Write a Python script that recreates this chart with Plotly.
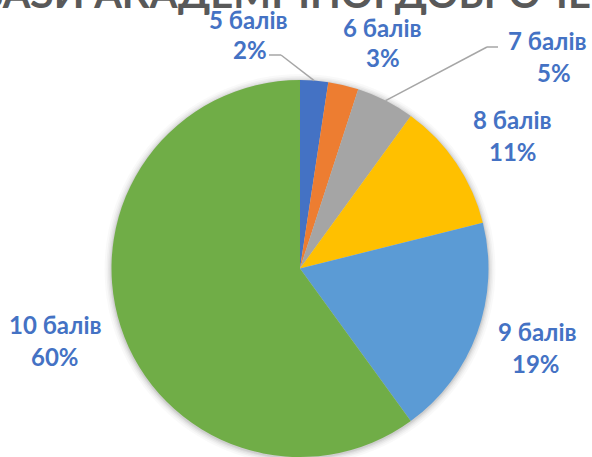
import math
import plotly.graph_objects as go

# ---- data ----
categories = ["5 балів", "6 балів", "7 балів", "8 балів", "9 балів", "10 балів"]
shares = [2.4, 2.6, 5.0, 11.1, 18.9, 60.0]
colors = ["#4472C4", "#ED7D31", "#A5A5A5", "#FFC000", "#5B9BD5", "#70AD47"]
title_text = "БАЗИ АКАДЕМІЧНОЇ ДОБРОЧЕСНОСТІ"

W, H = 592, 457
CX, CY, R = 300.0, 268.5, 188.5


def px(x, y):
    return x / W, 1 - y / H


total = sum(shares)
pct_labels = [f"{round(v / total * 100):.0f}%" for v in shares]

fig = go.Figure()

# soft shadow around the pie
for dr, op in [(7, 0.025), (5, 0.03), (3.5, 0.04), (2, 0.05), (1, 0.06)]:
    x0, y0 = px(CX - R - dr, CY - R - dr + 1)
    x1, y1 = px(CX + R + dr, CY + R + dr + 1)
    fig.add_shape(type="circle", xref="paper", yref="paper",
                  x0=x0, x1=x1, y0=y1, y1=y0, layer="below",
                  fillcolor=f"rgba(0,0,0,{op})", line=dict(width=0))

dx0, _ = px(CX - R, 0)
dx1, _ = px(CX + R, 0)
fig.add_trace(go.Pie(
    labels=categories, values=shares, sort=False, direction="clockwise",
    rotation=0, textinfo="none", hoverinfo="label+percent",
    marker=dict(colors=colors, line=dict(width=0)),
    domain=dict(x=[dx0, dx1], y=[0, 2 * R / H]),
    showlegend=False,
))

# label positions (pixel centers): name line, percent line
label_pos = [
    ((248, 19), (250, 49)),
    ((382, 28), (383, 58)),
    ((547, 40), (554, 72)),
    ((512, 119), (513, 151)),
    ((537, 331), (536, 363)),
    ((55, 324), (55, 356)),
]
lab_font = dict(family="Lato", size=24, color="#4472C4")
for name, pct, (p1, p2) in zip(categories, pct_labels, label_pos):
    for txt, p in ((name, p1), (pct, p2)):
        x, y = px(*p)
        fig.add_annotation(text=f"<b>{txt}</b>", x=x, y=y, xref="paper", yref="paper",
                           xanchor="center", yanchor="middle", showarrow=False, font=lab_font)

# leader lines for the two small slices (to mid-angle of slice on the edge)
cum = 0
mids = []
for v in shares:
    mids.append((cum + v / 2) / total * 2 * math.pi)
    cum += v


def edge(i):
    a = mids[i]
    return CX + R * math.sin(a), CY - R * math.cos(a)


leaders = [(0, [(269, 55), (281, 55)]), (2, [(498, 47), (487, 47)])]
for i, pts in leaders:
    pts = pts + [edge(i)]
    for (xa, ya), (xb, yb) in zip(pts[:-1], pts[1:]):
        a0, b0 = px(xa, ya)
        a1, b1 = px(xb, yb)
        fig.add_shape(type="line", xref="paper", yref="paper", x0=a0, y0=b0, x1=a1, y1=b1,
                      line=dict(color="#A6A6A6", width=1.5))

# title (cut off at the top in the reference)
tx, ty = px(-24, -7)
fig.add_annotation(text=f"<b>{title_text}</b>", x=tx, y=ty, xref="paper", yref="paper",
                   xanchor="left", yanchor="middle", showarrow=False,
                   font=dict(family="Lato", size=40, color="#595959"))

fig.update_layout(width=W, height=H, margin=dict(l=0, r=0, t=0, b=0),
                  paper_bgcolor="white", plot_bgcolor="white")
fig.write_html("out.html", config={"displayModeBar": False},
               post_script="document.body.style.margin='0';")
